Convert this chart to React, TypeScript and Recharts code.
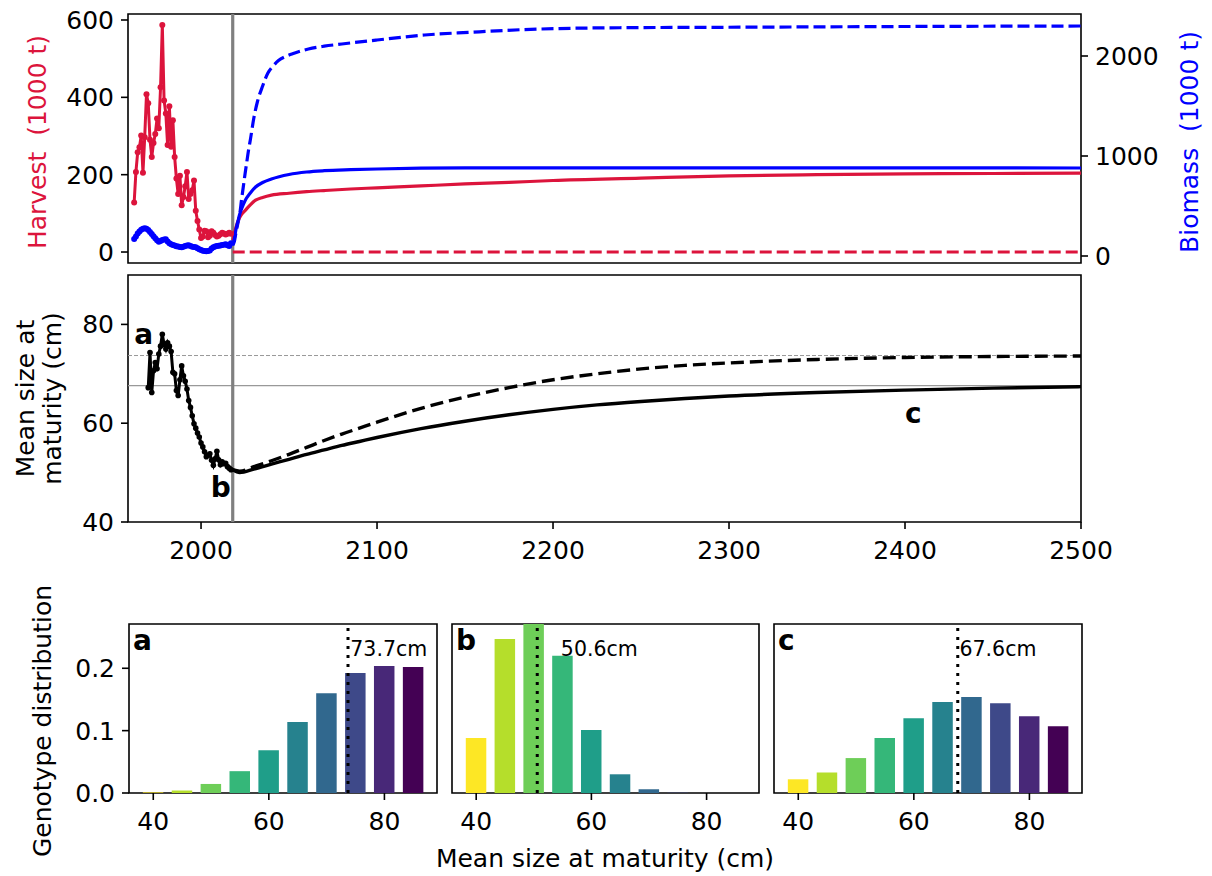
import React from 'react';
import {
  LineChart, Line, XAxis, YAxis, ReferenceLine, ReferenceArea, ReferenceDot,
  BarChart, Bar, Cell,
} from 'recharts';

const FONT = '"DejaVu Sans", sans-serif';
const FS = 25;
const CRIMSON = '#dc143c';
const BLUE = '#0000ff';
const GREY = '#808080';

// historical records (one value per year)
const harvestStart = 1962;
const harvest = [
  128, 207, 258, 271, 301, 205, 297, 408, 385, 290,
  246, 282, 305, 345, 320, 426, 587, 392, 358, 277,
  377, 272, 341, 246, 190, 150, 197, 121, 142, 170,
  207, 137, 150, 160, 185, 107, 80, 58, 36, 40,
  55, 54, 38, 42, 54, 50, 44, 40, 42, 46,
  50, 48, 45, 47, 50, 47,
];
const biomass = [
  170, 195, 225, 245, 262, 272, 277, 272, 260, 240,
  220, 198, 177, 158, 143, 150, 160, 165, 167, 145,
  127, 118, 110, 104, 98, 94, 90, 87, 92, 100,
  104, 107, 100, 93, 90, 87, 78, 67, 60, 53,
  49, 47, 50, 55, 75, 87, 95, 100, 102, 105,
  110, 113, 117, 108, 100, 127,
];
const sizeStart = 1970;
const sizeHist = [
  67.2, 74.3, 66.2, 70.6, 72.3, 71.0, 74.0, 75.6, 78.0, 76.0,
  75.0, 76.3, 75.6, 74.5, 70.3, 70.0, 66.6, 65.6, 68.8, 71.6,
  69.6, 68.5, 66.9, 64.6, 63.2, 61.5, 59.9, 59.0, 58.0, 57.2,
  56.0, 55.2, 54.2, 53.2, 53.5, 53.8, 52.5, 51.5, 52.8, 54.3,
  52.6, 51.6, 52.2, 51.8, 51.9, 51.2, 50.9, 50.6,
];
const endOfRecord = 2018;

// projections
const harvestProjYears = [2018, 2019, 2020, 2021, 2023, 2025, 2028, 2031, 2035, 2040, 2050, 2060, 2070, 2085, 2100, 2125, 2150, 2175, 2200, 2250, 2300, 2350, 2400, 2450, 2500];
const harvestProj = [30, 50, 66, 80, 97, 107, 122, 134, 141, 147, 152, 156, 159, 163, 166, 171, 176, 180, 185, 191, 197, 200, 202, 203, 204];
const harvestStopYears = [2018, 2500];
const harvestStop = [0, 0];

const biomassProjYears = [2018, 2019, 2020, 2021, 2022, 2023, 2025, 2028, 2031, 2035, 2040, 2050, 2060, 2070, 2085, 2100, 2125, 2150, 2200, 2300, 2400, 2500];
const biomassProj = [110, 180, 280, 350, 420, 470, 553, 630, 690, 735, 770, 815, 840, 853, 863, 870, 878, 881, 882, 882, 881, 880];
const biomassStopYears = [2018, 2019, 2020, 2021, 2022, 2023, 2024, 2025, 2026, 2027, 2028, 2030, 2032, 2035, 2038, 2041, 2044, 2048, 2052, 2061, 2070, 2080, 2100, 2127, 2153, 2182, 2210, 2240, 2295, 2400, 2500];
const biomassStop = [110, 150, 250, 330, 420, 560, 690, 820, 940, 1060, 1160, 1380, 1540, 1700, 1830, 1900, 1955, 1995, 2022, 2070, 2098, 2120, 2160, 2210, 2237, 2263, 2277, 2283, 2287, 2295, 2300];

const sizeProjYears = [2018, 2022, 2030, 2040, 2050, 2060, 2070, 2080, 2090, 2100, 2125, 2150, 2175, 2200, 2225, 2250, 2275, 2300, 2350, 2400, 2450, 2500];
const sizeProj = [50.6, 50.0, 50.7, 51.7, 52.7, 53.7, 54.6, 55.5, 56.3, 57.1, 58.9, 60.4, 61.7, 62.8, 63.7, 64.4, 65.0, 65.5, 66.2, 66.7, 67.1, 67.4];
const sizeStop = [50.6, 50.3, 51.2, 52.4, 53.7, 55.1, 56.5, 57.8, 59.0, 60.2, 63.0, 65.3, 67.2, 68.8, 70.0, 71.0, 71.7, 72.2, 72.9, 73.3, 73.5, 73.6];
const startMean = 73.7;
const endMean = 67.6;

// genotype distributions
const sizeClasses = [40, 45, 50, 55, 60, 65, 70, 75, 80, 85];
const distA = [0.001, 0.004, 0.0145, 0.035, 0.0686, 0.1137, 0.160, 0.1925, 0.2037, 0.2021];
const distB = [0.088, 0.247, 0.305, 0.220, 0.101, 0.030, 0.006, 0.0005, 0, 0];
const distC = [0.022, 0.033, 0.056, 0.088, 0.120, 0.146, 0.154, 0.144, 0.123, 0.107];
const classColors = ['#fde725', '#b5de2b', '#6ece58', '#35b779', '#1f9e89', '#26828e', '#31688e', '#3e4989', '#482878', '#440154'];

const YEARS: [number, number] = [1958.5, 2500];
const H_DOM: [number, number] = [-28.4, 615.5];
const B_DOM: [number, number] = [-70, 2420];
const S_DOM: [number, number] = [40, 90];
const G_X: [number, number] = [35.8, 89.1];
const G_Y: [number, number] = [0, 0.271];

const series = (start: number, vals: number[]) => vals.map((v, i) => ({ year: start + i, v }));
const pairs = (years: number[], vals: number[]) => years.map((y, i) => ({ year: y, v: vals[i] }));

const tickStyle = { fill: '#000', fontSize: FS, fontFamily: FONT };
const tickLine = { stroke: '#000', strokeWidth: 1.6 };

const note = (text: string, size: number, bold: boolean) => (props: any) => {
  const vb = props.viewBox || { x: 0, y: 0 };
  return (
    <text x={vb.x} y={vb.y} fontSize={size} fontWeight={bold ? 'bold' : 'normal'} fontFamily={FONT} fill="#000">
      {text}
    </text>
  );
};

function TopPanel() {
  return (
    <LineChart width={1212} height={280} margin={{ top: 14, right: 71, bottom: 17, left: 68 }}>
      <XAxis type="number" dataKey="year" domain={YEARS} allowDataOverflow hide />
      <YAxis yAxisId="h" type="number" domain={H_DOM} ticks={[0, 200, 400, 600]} allowDataOverflow width={60}
        axisLine={false} tickLine={tickLine} tickSize={7} tickMargin={7} tick={tickStyle} />
      <YAxis yAxisId="b" orientation="right" type="number" domain={B_DOM} ticks={[0, 1000, 2000]} allowDataOverflow width={60}
        axisLine={false} tickLine={tickLine} tickSize={7} tickMargin={7} tick={tickStyle} />
      <ReferenceLine yAxisId="h" x={endOfRecord} stroke={GREY} strokeWidth={3.2} />
      <Line yAxisId="h" data={pairs(harvestStopYears, harvestStop)} dataKey="v" stroke={CRIMSON} strokeWidth={3}
        strokeDasharray="12 5" dot={false} isAnimationActive={false} />
      <Line yAxisId="b" data={pairs(biomassStopYears, biomassStop)} dataKey="v" stroke={BLUE} strokeWidth={3.2}
        strokeDasharray="12 5" dot={false} type="monotone" isAnimationActive={false} />
      <Line yAxisId="h" data={pairs(harvestProjYears, harvestProj)} dataKey="v" stroke={CRIMSON} strokeWidth={3.2}
        dot={false} type="monotone" isAnimationActive={false} />
      <Line yAxisId="b" data={pairs(biomassProjYears, biomassProj)} dataKey="v" stroke={BLUE} strokeWidth={3.2}
        dot={false} type="monotone" isAnimationActive={false} />
      <Line yAxisId="h" data={series(harvestStart, harvest)} dataKey="v" stroke={CRIMSON} strokeWidth={3}
        dot={{ r: 3, fill: CRIMSON, stroke: CRIMSON, strokeWidth: 0 }} isAnimationActive={false} />
      <Line yAxisId="b" data={series(harvestStart, biomass)} dataKey="v" stroke={BLUE} strokeWidth={3.2}
        dot={{ r: 3, fill: BLUE, stroke: BLUE, strokeWidth: 0 }} isAnimationActive={false} />
      <ReferenceArea yAxisId="h" x1={YEARS[0]} x2={YEARS[1]} y1={H_DOM[0]} y2={H_DOM[1]} fill="none"
        stroke="#000" strokeWidth={1.6} ifOverflow="visible" />
    </LineChart>
  );
}

function MiddlePanel() {
  return (
    <LineChart width={1212} height={320} margin={{ top: 12, right: 131, bottom: 0, left: 68 }}>
      <XAxis type="number" dataKey="year" domain={YEARS} allowDataOverflow ticks={[2000, 2100, 2200, 2300, 2400, 2500]}
        height={61} axisLine={false} tickLine={tickLine} tickSize={7} tickMargin={12} tick={tickStyle} />
      <YAxis type="number" domain={S_DOM} ticks={[40, 60, 80]} allowDataOverflow width={60}
        axisLine={false} tickLine={tickLine} tickSize={7} tickMargin={7} tick={tickStyle} />
      <ReferenceLine y={startMean} stroke="#999" strokeWidth={1} strokeDasharray="4 2" />
      <ReferenceLine y={endMean} stroke="#999" strokeWidth={1.3} />
      <ReferenceLine x={endOfRecord} stroke={GREY} strokeWidth={3.2} />
      <Line data={pairs(sizeProjYears, sizeStop)} dataKey="v" stroke="#000" strokeWidth={3.4}
        strokeDasharray="13 6" dot={false} type="monotone" isAnimationActive={false} />
      <Line data={pairs(sizeProjYears, sizeProj)} dataKey="v" stroke="#000" strokeWidth={3.4}
        dot={false} type="monotone" isAnimationActive={false} />
      <Line data={series(sizeStart, sizeHist)} dataKey="v" stroke="#000" strokeWidth={3}
        dot={{ r: 2.8, fill: '#000', stroke: '#000', strokeWidth: 0 }} isAnimationActive={false} />
      <ReferenceDot x={1962} y={76} r={0} fill="none" stroke="none" label={note('a', 28, true)} />
      <ReferenceDot x={2005.5} y={45} r={0} fill="none" stroke="none" label={note('b', 28, true)} />
      <ReferenceDot x={2400} y={60} r={0} fill="none" stroke="none" label={note('c', 28, true)} />
      <ReferenceArea x1={YEARS[0]} x2={YEARS[1]} y1={S_DOM[0]} y2={S_DOM[1]} fill="none"
        stroke="#000" strokeWidth={1.6} ifOverflow="visible" />
    </LineChart>
  );
}

function GenotypePanel({ dist, letter, mean, labelX, showY, width, left, right }: {
  dist: number[]; letter: string; mean: number; labelX: number; showY: boolean; width: number; left: number; right: number;
}) {
  const rows = sizeClasses.map((s, i) => ({ size: s, share: dist[i] }));
  return (
    <BarChart width={width} height={253} data={rows} margin={{ top: 24, right, bottom: 0, left }}>
      <XAxis type="number" dataKey="size" domain={G_X} allowDataOverflow ticks={[40, 60, 80]} height={60}
        axisLine={false} tickLine={tickLine} tickSize={7} tickMargin={12} tick={tickStyle} />
      <YAxis type="number" domain={G_Y} allowDataOverflow ticks={[0, 0.1, 0.2]} hide={!showY} width={60}
        tickFormatter={(v: number) => v.toFixed(1)}
        axisLine={false} tickLine={tickLine} tickSize={7} tickMargin={7} tick={tickStyle} />
      <Bar dataKey="share" barSize={20.5} isAnimationActive={false}>
        {rows.map((r, i) => <Cell key={r.size} fill={classColors[i]} />)}
      </Bar>
      <ReferenceLine x={mean} stroke="#000" strokeWidth={3} strokeDasharray="3 6" />
      <ReferenceDot x={labelX} y={0.22} r={0} fill="none" stroke="none" label={note(`${mean}cm`, 20.5, false)} />
      <ReferenceDot x={36.5} y={0.229} r={0} fill="none" stroke="none" label={note(letter, 28, true)} />
      <ReferenceArea x1={G_X[0]} x2={G_X[1]} y1={G_Y[0]} y2={G_Y[1]} fill="none"
        stroke="#000" strokeWidth={1.6} ifOverflow="visible" />
    </BarChart>
  );
}

export default function App() {
  const abs = (left: number, top: number): React.CSSProperties => ({ position: 'absolute', left, top });
  return (
    <div style={{ position: 'absolute', left: 0, top: 0, width: 1212, height: 876, background: '#fff', fontFamily: FONT }}>
      <div style={abs(0, 0)}><TopPanel /></div>
      <div style={abs(0, 263)}><MiddlePanel /></div>
      <div style={abs(0, 600)}>
        <GenotypePanel dist={distA} letter="a" mean={73.7} labelX={74.1} showY width={445} left={69} right={8} />
      </div>
      <div style={abs(445, 600)}>
        <GenotypePanel dist={distB} letter="b" mean={50.6} labelX={54.7} showY={false} width={320} left={7} right={6} />
      </div>
      <div style={abs(765, 600)}>
        <GenotypePanel dist={distC} letter="c" mean={67.6} labelX={67.9} showY={false} width={330} left={9} right={13} />
      </div>
      <svg width={1212} height={876} style={{ position: 'absolute', left: 0, top: 0, pointerEvents: 'none' }}>
        <g fontFamily={FONT} fontSize={FS} textAnchor="middle" dominantBaseline="central">
          <text x={37} y={142} fill={CRIMSON} transform="rotate(-90 37 142)" style={{ whiteSpace: 'pre' }}>Harvest  (1000 t)</text>
          <text x={1189} y={142} fill={BLUE} transform="rotate(-90 1189 142)" style={{ whiteSpace: 'pre' }}>Biomass  (1000 t)</text>
          <text x={25} y={398.5} fill="#000" transform="rotate(-90 25 398.5)">Mean size at</text>
          <text x={52} y={398.5} fill="#000" transform="rotate(-90 52 398.5)">maturity (cm)</text>
          <text x={42} y={721} fill="#000" transform="rotate(-90 42 721)">Genotype distribution</text>
          <text x={605} y={858} fill="#000">Mean size at maturity (cm)</text>
        </g>
      </svg>
    </div>
  );
}
